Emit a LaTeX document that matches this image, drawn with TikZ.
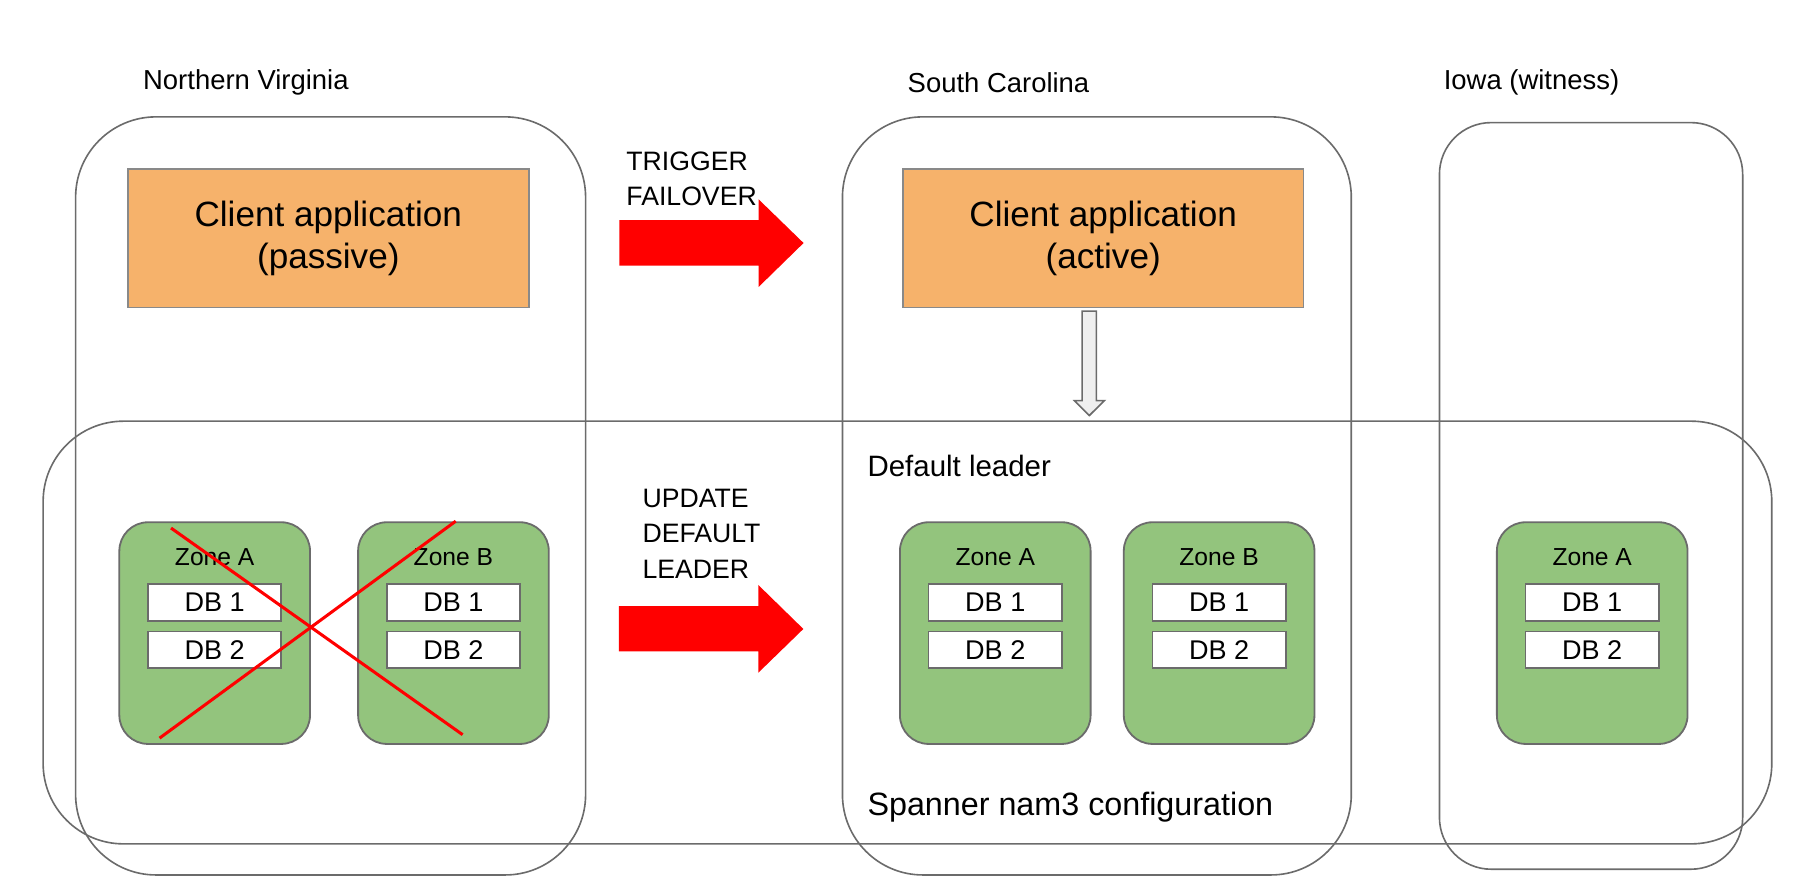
\documentclass[tikz,border=0pt]{standalone}
\usepackage{fontspec}
\setmainfont{Liberation Sans}
\definecolor{linegray}{HTML}{6B6B6B}
\definecolor{orangefill}{HTML}{F6B26B}
\definecolor{greenfill}{HTML}{93C47D}
\definecolor{redfill}{HTML}{FF0000}
\definecolor{arrowgray}{HTML}{EFEFEF}
\begin{document}
\begin{tikzpicture}[x=0.01cm,y=-0.01cm,
  region/.style={draw=linegray, line width=0.4pt, rounded corners=0.7cm, inner sep=0pt},
  appbox/.style={draw=linegray!80, fill=orangefill, line width=0.4pt, minimum width=3.49cm, minimum height=1.21cm, align=center, inner sep=0pt, font=\fontsize{8.7}{10.5}\selectfont},
  zonebox/.style={draw=linegray, fill=greenfill, line width=0.45pt, rounded corners=0.25cm, minimum width=1.66cm, minimum height=1.93cm, inner sep=0pt},
  zonelabel/.style={inner sep=0pt, font=\fontsize{6.1}{7}\selectfont},
  dbbox/.style={draw=linegray, fill=white, line width=0.4pt, minimum width=1.16cm, minimum height=0.32cm, inner sep=0pt, font=\fontsize{6.7}{8}\selectfont},
  title/.style={inner sep=0pt, anchor=west, font=\fontsize{6.8}{8}\selectfont},
  steplabel/.style={inner sep=0pt, anchor=west, align=left, font=\fontsize{6.6}{8.7}\selectfont},
  redarrow/.style={fill=redfill, draw=none},
  crossline/.style={draw=redfill, line width=0.75pt},
  grayarrow/.style={fill=arrowgray, draw=linegray, line width=0.4pt}
]
\useasboundingbox (0,0) rectangle (1568,779.6);

% region titles
\node[title] (tnv) at (124,72) {Northern Virginia};
\node[title] (tsc) at (790,72) {South Carolina};
\node[title] (tio) at (1257,72) {Iowa (witness)};

% region boxes
\node[region, minimum width=4.44cm, minimum height=6.60cm] (nv) at (288,432) {};
\node[region, minimum width=4.43cm, minimum height=6.60cm] (sc) at (955.5,432) {};
\node[region, rounded corners=0.45cm, minimum width=2.64cm, minimum height=6.50cm] (io) at (1386,432) {};
\node[region, minimum width=15.05cm, minimum height=3.68cm] (spanner) at (790.5,551) {};

% client applications
\node[appbox] (appnv) at (286,207.5) {Client application\\(passive)};
\node[appbox] (appsc) at (961,207.5) {Client application\\(active)};

% zones
\foreach \n/\x/\l in {nvA/187/A, nvB/395/B, scA/867/A, scB/1062/B, ioA/1387/A}{
  \node[zonebox] (\n) at (\x,551.5) {};
  \node[zonelabel] (\n-lab) at (\x,485) {Zone \l};
  \node[dbbox] (\n-db1) at (\x,525) {DB 1};
  \node[dbbox] (\n-db2) at (\x,566) {DB 2};
}

% labels
\node[title, font=\fontsize{7.3}{9}\selectfont] (deflead) at (755,405.5) {Default leader};
\node[title, font=\fontsize{8.0}{10}\selectfont] (cfg) at (755,702.7) {Spanner nam3 configuration};
\node[steplabel] (trig) at (545,155.5) {TRIGGER\\FAILOVER};
\node[steplabel] (upd) at (559,465) {UPDATE\\DEFAULT\\LEADER};

% red block arrows
\fill[redarrow] (539.6,191.8) -- (660.8,191.8) -- (660.8,173.6) -- (700,211.7)
  -- (660.8,250) -- (660.8,231.4) -- (539.6,231.4) -- cycle;
\fill[redarrow] (539.2,527.9) -- (660.6,527.9) -- (660.6,509.6) -- (699.8,547.9)
  -- (660.6,586) -- (660.6,567.4) -- (539.2,567.4) -- cycle;

% gray arrow from active client to configuration
\path[grayarrow] (942.6,271) -- (955.1,271) -- (955.1,349) -- (962,349) -- (948.9,362)
  -- (936,349) -- (942.6,349) -- cycle;

% red cross over Northern Virginia zones
\coordinate (x1a) at (149,460);
\coordinate (x1b) at (403,640);
\coordinate (x2a) at (397,454);
\coordinate (x2b) at (139,643);
\draw[crossline] (x1a) -- (x1b);
\draw[crossline] (x2a) -- (x2b);
\end{tikzpicture}
\end{document}
